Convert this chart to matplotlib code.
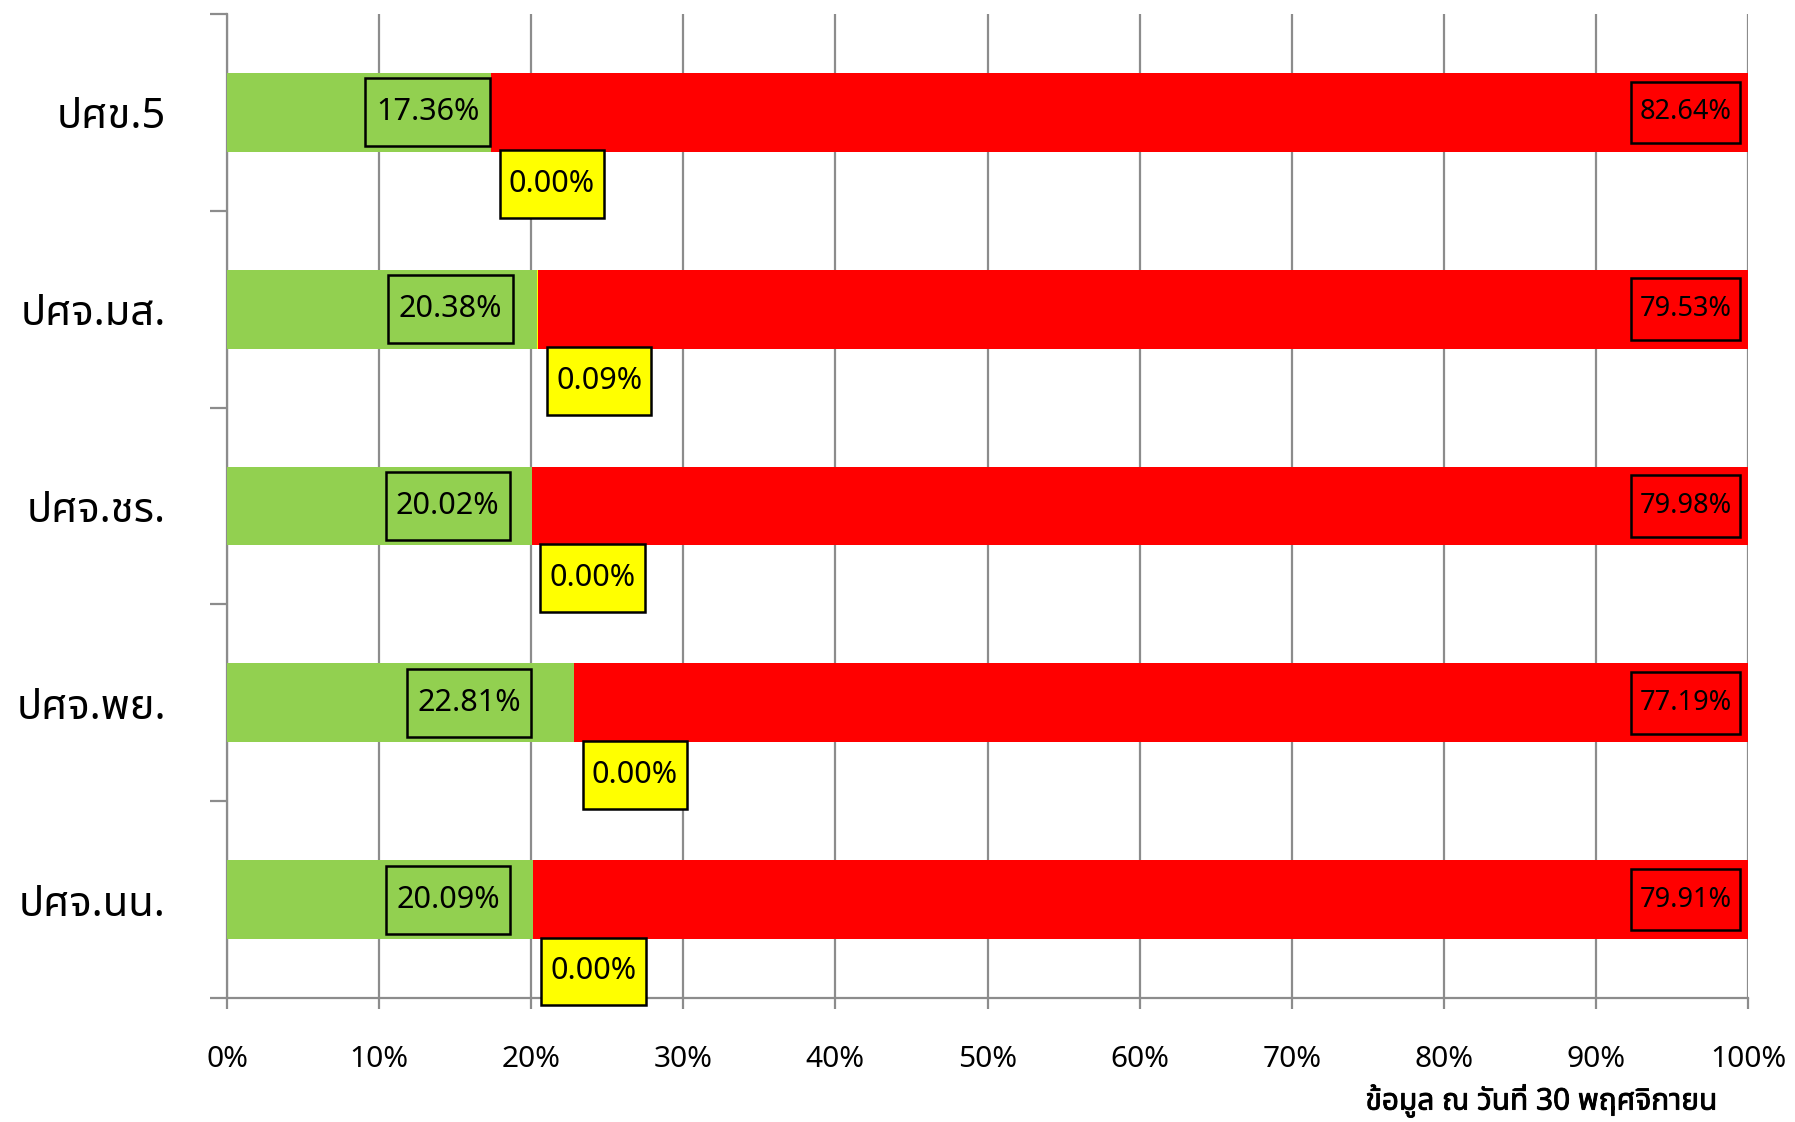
import matplotlib
matplotlib.use("Agg")
import matplotlib.pyplot as plt
from matplotlib import font_manager as fm
from matplotlib.ft2font import FT2Font
from matplotlib.ticker import FixedLocator, PercentFormatter
from matplotlib.path import Path
import matplotlib.patheffects as pe

# ---------------- data ----------------
categories = ["ปศข.5", "ปศจ.มส.", "ปศจ.ชร.", "ปศจ.พย.", "ปศจ.นน."]
green_vals = [17.36, 20.38, 20.02, 22.81, 20.09]
yellow_vals = [0.00, 0.09, 0.00, 0.00, 0.00]
red_vals = [82.64, 79.53, 79.98, 77.19, 79.91]
x_ticks = [0, 10, 20, 30, 40, 50, 60, 70, 80, 90, 100]
footnote = "ข้อมูล ณ วันที่ 30 พฤศจิกายน"

# ---------------- font with Thai glyphs ----------------
def find_thai_family():
    preferred = ["Leelawadee UI", "Tahoma", "Noto Sans Thai", "Noto Sans Thai UI",
                 "Sarabun", "Loma", "Garuda", "Norasi", "Kinnari", "Tlwg Typo",
                 "Umpush", "Waree", "Laksaman", "Purisa", "Sawasdee"]
    found = []
    for f in fm.fontManager.ttflist:
        try:
            cm = FT2Font(f.fname).get_charmap()
        except Exception:
            continue
        if 0x0E1B in cm and 0x0E28 in cm and 0x0E49 in cm:
            found.append(f.name)
    for p in preferred:
        if p in found:
            return p
    return found[0] if found else None

thai = find_thai_family()
families = ([thai] if thai else []) + ["DejaVu Sans"]
plt.rcParams["font.family"] = families

GREEN = "#92D050"
YELLOW = "#FFFF00"
RED = "#FF0000"
GRID = "#8C8C8C"


def make_box(px, py):
    """Square box with separate horizontal / vertical padding (fractions of font size)."""
    def box(x0, y0, width, height, mutation_size):
        dx = px * mutation_size
        dy = py * mutation_size
        x0, y0 = x0 - dx, y0 - dy
        x1, y1 = x0 + width + 2 * dx, y0 + height + 2 * dy
        return Path([(x0, y0), (x1, y0), (x1, y1), (x0, y1), (x0, y0)],
                    closed=True)
    return box


fig = plt.figure(figsize=(17.95, 11.22), dpi=100)
ax = fig.add_axes([0.1265, 0.1105, 0.9738 - 0.1265, 0.9875 - 0.1105])

y = list(range(len(categories)))
h = 0.4
ax.barh(y, green_vals, height=h, color=GREEN, zorder=3)
ax.barh(y, yellow_vals, left=green_vals, height=h, color=YELLOW, zorder=3)
left_r = [g + yl for g, yl in zip(green_vals, yellow_vals)]
ax.barh(y, red_vals, left=left_r, height=h, color=RED, zorder=3)

ax.set_xlim(0, 100)
ax.set_ylim(len(categories) - 0.5, -0.5)

# grid & spines
ax.set_xticks(x_ticks)
ax.xaxis.set_major_formatter(PercentFormatter(decimals=0))
ax.grid(axis="x", color=GRID, linewidth=1.6, zorder=0)
for s in ["top", "right"]:
    ax.spines[s].set_visible(False)
for s in ["left", "bottom"]:
    ax.spines[s].set_color(GRID)
    ax.spines[s].set_linewidth(1.6)

ax.tick_params(axis="x", length=8, width=1.6, color=GRID, pad=26, labelsize=21.5)
ax.set_yticks(y)
ax.set_yticklabels(categories)
ax.tick_params(axis="y", which="major", length=0, pad=44, labelsize=30)
ax.yaxis.set_minor_locator(FixedLocator([i - 0.5 for i in range(len(categories) + 1)]))
ax.tick_params(axis="y", which="minor", length=12.5, width=1.6, color=GRID)

# data labels
for i in range(len(categories)):
    g, yl, r = green_vals[i], yellow_vals[i], red_vals[i]
    ax.text(0.5 * g + 4.5, i, f"{g:.2f}%", ha="center", va="center", fontsize=22, zorder=5,
            bbox=dict(boxstyle=make_box(0.34, 0.62), fc=GREEN, ec="black", lw=1.8))
    ax.text(g + yl + 4.0, i + 0.365, f"{yl:.2f}%", ha="center", va="center", fontsize=22, zorder=5,
            bbox=dict(boxstyle=make_box(0.3, 0.62), fc=YELLOW, ec="black", lw=1.8))
    ax.text(95.9, i, f"{r:.2f}%", ha="center", va="center", fontsize=19.5, zorder=5,
            bbox=dict(boxstyle=make_box(0.31, 0.62), fc=RED, ec="black", lw=1.8))

fig.text(1717 / 1795, 1 - 1101 / 1122, footnote, ha="right", va="center",
         fontsize=21.5, fontweight="bold",
         path_effects=[pe.withStroke(linewidth=0.6, foreground="black")])

fig.savefig("out.png", dpi=100, facecolor="white")
